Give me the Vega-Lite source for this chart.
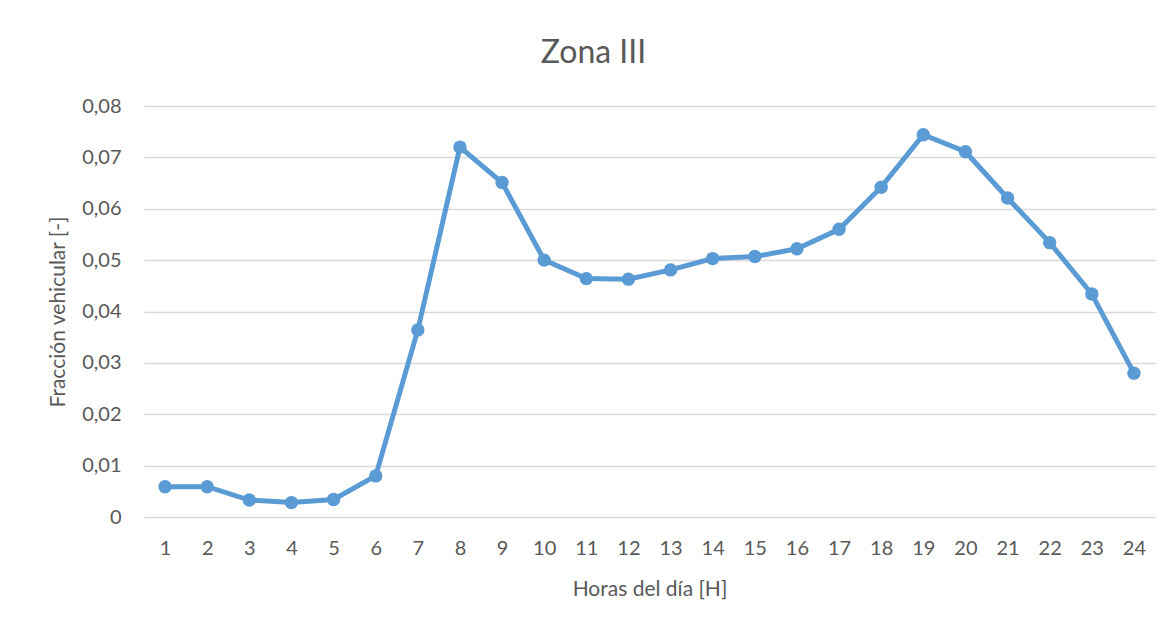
{
  "$schema": "https://vega.github.io/schema/vega-lite/v6.json",
  "autosize": {"type": "none"},
  "width": 1011,
  "height": 411,
  "padding": {"left": 144, "top": 106, "right": 21, "bottom": 114},
  "background": "white",
  "title": {
    "text": "Zona III",
    "anchor": "middle",
    "frame": "group",
    "dx": -56,
    "offset": 1,
    "baseline": "alphabetic",
    "font": "Lato",
    "fontSize": 32,
    "fontWeight": "normal",
    "color": "#595959"
  },
  "data": {
    "values": [
      {"hora": 1, "fraccion": 0.0059},
      {"hora": 2, "fraccion": 0.0059},
      {"hora": 3, "fraccion": 0.0033},
      {"hora": 4, "fraccion": 0.0028},
      {"hora": 5, "fraccion": 0.0034},
      {"hora": 6, "fraccion": 0.0080},
      {"hora": 7, "fraccion": 0.0364},
      {"hora": 8, "fraccion": 0.0720},
      {"hora": 9, "fraccion": 0.0651},
      {"hora": 10, "fraccion": 0.0500},
      {"hora": 11, "fraccion": 0.0464},
      {"hora": 12, "fraccion": 0.0463},
      {"hora": 13, "fraccion": 0.0481},
      {"hora": 14, "fraccion": 0.0503},
      {"hora": 15, "fraccion": 0.0507},
      {"hora": 16, "fraccion": 0.0522},
      {"hora": 17, "fraccion": 0.0560},
      {"hora": 18, "fraccion": 0.0642},
      {"hora": 19, "fraccion": 0.0744},
      {"hora": 20, "fraccion": 0.0711},
      {"hora": 21, "fraccion": 0.0621},
      {"hora": 22, "fraccion": 0.0534},
      {"hora": 23, "fraccion": 0.0434},
      {"hora": 24, "fraccion": 0.0280}
    ]
  },
  "mark": {
    "type": "line",
    "color": "#5B9BD5",
    "strokeWidth": 5,
    "point": {"filled": true, "size": 180, "color": "#5B9BD5", "opacity": 1}
  },
  "encoding": {
    "x": {
      "field": "hora",
      "type": "ordinal",
      "scale": {"type": "point", "padding": 0.5},
      "axis": {
        "title": "Horas del día [H]",
        "labelAngle": 0,
        "ticks": false,
        "domain": false,
        "grid": false,
        "labelPadding": 21,
        "titlePadding": 20
      }
    },
    "y": {
      "field": "fraccion",
      "type": "quantitative",
      "scale": {"domain": [0, 0.08], "nice": false, "zero": true},
      "axis": {
        "title": "Fracción vehicular [-]",
        "values": [0, 0.01, 0.02, 0.03, 0.04, 0.05, 0.06, 0.07, 0.08],
        "labelExpr": "datum.value == 0 ? '0' : replace(format(datum.value, '.2f'), '.', ',')",
        "ticks": false,
        "domain": false,
        "grid": true,
        "labelPadding": 23,
        "titlePadding": 13
      }
    }
  },
  "config": {
    "view": {"stroke": null},
    "axis": {
      "labelFont": "Lato",
      "labelFontSize": 20,
      "labelColor": "#595959",
      "titleFont": "Lato",
      "titleFontSize": 21,
      "titleFontWeight": "normal",
      "titleColor": "#595959",
      "gridColor": "#D9D9D9",
      "gridWidth": 1.5,
      "gridOpacity": 1
    }
  }
}
